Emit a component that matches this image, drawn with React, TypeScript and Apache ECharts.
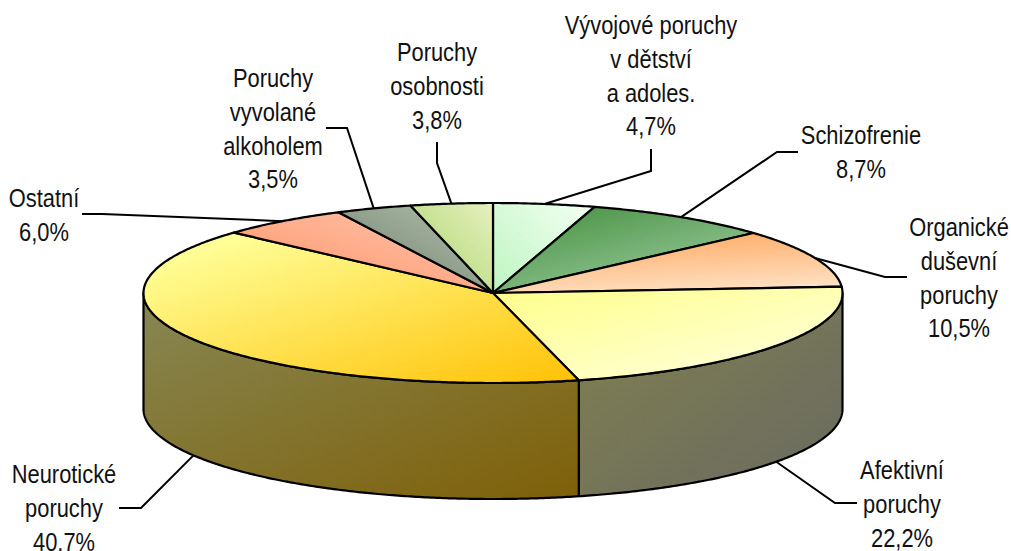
import React, { useEffect, useRef } from "react";
import * as echarts from "echarts";

const names = [
  "Vývojové poruchy\nv dětství\na adoles.",
  "Schizofrenie",
  "Organické\nduševní\nporuchy",
  "Afektivní\nporuchy",
  "Neurotické\nporuchy",
  "Ostatní",
  "Poruchy\nvyvolané\nalkoholem",
  "Poruchy\nosobnosti",
];
const values = [4.7, 8.7, 10.5, 22.2, 40.7, 6.0, 3.5, 3.8];
const percentLabels = ["4,7%", "8,7%", "10,5%", "22,2%", "40,7%", "6,0%", "3,5%", "3,8%"];

// styling: [x, y, x2, y2, from, to]
const topFills: [number, number, number, number, string, string][] = [
  [0, 1, 1, 0.2, "#bdf5c0", "#f0fff0"],
  [0.1, 0, 0.9, 1, "#44903f", "#a4d0a8"],
  [0.2, 0, 0.5, 1, "#ffa860", "#ffdfc0"],
  [0.1, 0, 1, 1, "#ffff8e", "#ffffe2"],
  [0.12, 0.08, 1, 1.05, "#ffff99", "#ffc000"],
  [0, 1, 1, 0, "#ff8f66", "#ffc9af"],
  [0, 1, 1, 0, "#6f7f6c", "#b2c2ad"],
  [0, 1, 1, 0, "#a6d468", "#e7f0bf"],
];
const sideFills: ([number, number, number, number, string, string] | null)[] = [
  null,
  null,
  null,
  [0, 0, 1, 1, "#80804f", "#6a6a62"],
  [0.12, 0, 1, 1, "#868550", "#7f6008"],
  null,
  null,
  null,
];
// elbow and end of each leader line; start comes from the slice's mid angle
const leaders: number[][] = [
  [651, 171, 651, 149],
  [777, 152, 798, 152],
  [885, 277, 907, 277],
  [835, 503, 857, 503],
  [141, 508, 119, 508],
  [102, 214, 82, 214],
  [347, 128, 326, 128],
  [437, 163, 437, 142],
];
// centre x and first baseline of each label
const labelAt: number[][] = [
  [651, 35],
  [861, 145],
  [959, 237],
  [902, 480],
  [64, 484],
  [44, 208],
  [273, 88],
  [437, 62],
];

const CX = 493;
const CY = 293;
const RX = 349.5;
const RY = 90;
const DEPTH = 116;
const FONT = 25;
const LINE_H = 33.7;
const SCALE_X = 0.875;
const ASCENT_OFFSET = 26;

const total = values.reduce((a, b) => a + b, 0);
const startAngles: number[] = [];
values.reduce((acc, v) => {
  startAngles.push((acc / total) * 360);
  return acc + v;
}, 0);

const pt = (deg: number, dy = 0): [number, number] => {
  const r = (deg * Math.PI) / 180;
  return [CX + RX * Math.sin(r), CY - RY * Math.cos(r) + dy];
};
const arc = (a: number, b: number, dy = 0): [number, number][] => {
  const n = Math.max(2, Math.ceil(Math.abs(b - a) * 2));
  const out: [number, number][] = [];
  for (let i = 0; i <= n; i++) out.push(pt(a + ((b - a) * i) / n, dy));
  return out;
};
const grad = (f: [number, number, number, number, string, string]) => ({
  type: "linear",
  x: f[0],
  y: f[1],
  x2: f[2],
  y2: f[3],
  colorStops: [
    { offset: 0, color: f[4] },
    { offset: 1, color: f[5] },
  ],
});
const LINE = { stroke: "#000", lineWidth: 2.2, lineJoin: "round" as const };

export default function App() {
  const ref = useRef<HTMLDivElement>(null);
  useEffect(() => {
    document.body.style.margin = "0";
    const chart = echarts.init(ref.current!, undefined, { renderer: "svg" });
    const data = values.map((v, i) => ({ name: names[i], value: v }));
    const span = (i: number, val: number) => {
      const a = startAngles[i];
      return [a, a + (val / total) * 360];
    };
    chart.setOption({
      animation: false,
      backgroundColor: "#fff",
      series: [
        {
          type: "custom",
          coordinateSystem: "none",
          silent: true,
          z: 1,
          data,
          renderItem: (p: any, api: any) => {
            const fill = sideFills[p.dataIndex];
            if (!fill) return { type: "group", children: [] };
            const [a, b] = span(p.dataIndex, api.value(0));
            const s = Math.max(a, 90);
            const e = Math.min(b, 270);
            const pts = [...arc(s, e), ...arc(e, s, DEPTH)];
            return { type: "polygon", shape: { points: pts }, style: { fill: grad(fill), ...LINE } };
          },
        },
        {
          type: "custom",
          coordinateSystem: "none",
          silent: true,
          z: 2,
          data,
          renderItem: (p: any, api: any) => {
            const [a, b] = span(p.dataIndex, api.value(0));
            const pts = [[CX, CY], ...arc(a, b)];
            return { type: "polygon", shape: { points: pts }, style: { fill: grad(topFills[p.dataIndex]), ...LINE } };
          },
        },
        {
          type: "custom",
          coordinateSystem: "none",
          silent: true,
          z: 3,
          data,
          renderItem: (p: any, api: any) => {
            const i = p.dataIndex;
            const [a, b] = span(i, api.value(0));
            const mid = (a + b) / 2;
            const front = mid > 90 && mid < 270;
            const s = pt(mid, front ? DEPTH : 0);
            const l = leaders[i];
            const text = `${names[i]}\n${percentLabels[i]}`;
            return {
              type: "group",
              children: [
                {
                  type: "polyline",
                  shape: { points: [s, [l[0], l[1]], [l[2], l[3]]] },
                  style: { fill: "none", stroke: "#000", lineWidth: 2 },
                },
                {
                  type: "text",
                  x: labelAt[i][0],
                  y: labelAt[i][1] - ASCENT_OFFSET,
                  scaleX: SCALE_X,
                  style: {
                    text,
                    fill: "#111",
                    fontFamily: "Liberation Sans",
                    fontSize: FONT,
                    lineHeight: LINE_H,
                    align: "center",
                    verticalAlign: "top",
                  },
                },
              ],
            };
          },
        },
      ],
    });
    return () => chart.dispose();
  }, []);
  return <div ref={ref} style={{ width: 1011, height: 551 }} />;
}
